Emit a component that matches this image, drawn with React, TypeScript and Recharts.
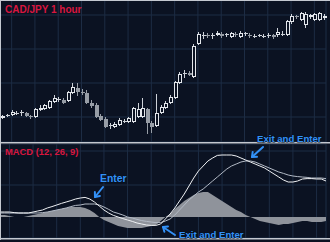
import { Area, Bar, CartesianGrid, ComposedChart, Line, XAxis, YAxis } from "recharts";

// hourly candles, CAD/JPY
const opens = [
  90.82, 90.84, 90.85, 90.865, 90.87, 90.87, 90.84, 90.83, 90.9, 90.91,
  90.92, 90.98, 91.0, 91.0, 90.99, 91.07, 91.12, 91.08, 91.07, 90.97,
  90.95, 90.84, 90.81, 90.74, 90.73, 90.75, 90.79, 90.78, 90.78, 90.83,
  90.83, 90.91, 90.77, 90.74, 90.87, 90.92, 90.97, 91.02, 91.17, 91.26,
  91.27, 91.23, 91.56, 91.65, 91.65, 91.64, 91.65, 91.66, 91.65, 91.63,
  91.66, 91.63, 91.66, 91.65, 91.64, 91.64, 91.64, 91.64, 91.65, 91.65,
  91.66, 91.65, 91.78, 91.84, 91.8, 91.75, 91.83, 91.8, 91.8, 91.82,
];
const highs = [
  90.85, 90.86, 90.9, 90.89, 90.9, 90.88, 90.85, 90.92, 90.95, 90.96,
  91.0, 91.05, 91.03, 91.02, 91.09, 91.17, 91.17, 91.11, 91.1, 91.0,
  90.97, 90.86, 90.83, 90.77, 90.78, 90.82, 90.81, 90.83, 90.93, 90.97,
  91.02, 90.92, 90.79, 91.06, 90.95, 90.99, 91.05, 91.19, 91.28, 91.3,
  91.29, 91.56, 91.68, 91.68, 91.67, 91.67, 91.69, 91.68, 91.67, 91.68,
  91.68, 91.69, 91.68, 91.67, 91.66, 91.66, 91.66, 91.67, 91.66, 91.72,
  91.69, 91.8, 91.86, 91.85, 91.88, 91.88, 91.86, 91.87, 91.88, 91.86,
];
const lows = [
  90.81, 90.83, 90.84, 90.85, 90.84, 90.83, 90.81, 90.82, 90.89, 90.9,
  90.91, 90.97, 90.98, 90.96, 90.98, 91.06, 91.04, 91.05, 90.96, 90.92,
  90.82, 90.79, 90.72, 90.71, 90.72, 90.74, 90.77, 90.77, 90.77, 90.82,
  90.82, 90.66, 90.67, 90.73, 90.86, 90.91, 90.96, 91.01, 91.16, 91.22,
  91.24, 91.22, 91.55, 91.61, 91.62, 91.61, 91.64, 91.62, 91.63, 91.62,
  91.63, 91.62, 91.64, 91.62, 91.62, 91.63, 91.62, 91.62, 91.61, 91.63,
  91.64, 91.64, 91.76, 91.81, 91.79, 91.72, 91.81, 91.79, 91.79, 91.8,
];
const closes = [
  90.84, 90.85, 90.88, 90.87, 90.88, 90.84, 90.83, 90.91, 90.92, 90.95,
  90.99, 91.02, 91.01, 90.97, 91.08, 91.13, 91.08, 91.07, 90.97, 90.94,
  90.83, 90.8, 90.73, 90.75, 90.76, 90.8, 90.79, 90.82, 90.92, 90.91,
  90.92, 90.77, 90.73, 90.87, 90.93, 90.97, 91.03, 91.18, 91.26, 91.27,
  91.25, 91.54, 91.66, 91.65, 91.64, 91.65, 91.67, 91.64, 91.66, 91.67,
  91.65, 91.67, 91.67, 91.64, 91.64, 91.65, 91.64, 91.65, 91.63, 91.68,
  91.66, 91.79, 91.84, 91.83, 91.87, 91.86, 91.85, 91.86, 91.87, 91.84,
];

// MACD (12, 26, 9)
const macd = [
  0.025, 0.025, 0.025, 0.022, 0.02, 0.02, 0.02, 0.025, 0.03, 0.035,
  0.045, 0.052, 0.06, 0.068, 0.075, 0.082, 0.09, 0.095, 0.098, 0.09,
  0.075, 0.055, 0.035, 0.02, 0.008, 0.0, -0.008, -0.015, -0.022, -0.03,
  -0.035, -0.04, -0.042, -0.042, -0.035, -0.01, 0.015, 0.045, 0.08, 0.115,
  0.155, 0.195, 0.23, 0.255, 0.28, 0.295, 0.308, 0.31, 0.31, 0.31,
  0.305, 0.295, 0.285, 0.275, 0.265, 0.255, 0.245, 0.23, 0.215, 0.2,
  0.185, 0.175, 0.175, 0.18, 0.19, 0.192, 0.192, 0.19, 0.19, 0.18,
];
const signal = [
  0.02, 0.02, 0.02, 0.02, 0.02, 0.02, 0.02, 0.02, 0.02, 0.022,
  0.025, 0.03, 0.035, 0.04, 0.045, 0.052, 0.058, 0.06, 0.065, 0.065,
  0.065, 0.06, 0.05, 0.038, 0.025, 0.018, 0.01, 0.0, -0.005, -0.012,
  -0.018, -0.022, -0.025, -0.028, -0.028, -0.02, -0.01, 0.01, 0.035, 0.06,
  0.085, 0.105, 0.125, 0.14, 0.16, 0.18, 0.2, 0.22, 0.24, 0.255,
  0.265, 0.275, 0.28, 0.28, 0.275, 0.265, 0.255, 0.245, 0.235, 0.225,
  0.218, 0.21, 0.205, 0.202, 0.2, 0.198, 0.195, 0.195, 0.195, 0.192,
];
const histogram = [
  0.01, 0.01, 0.005, 0, 0, 0, 0.005, 0.01, 0.015, 0.02,
  0.025, 0.03, 0.035, 0.04, 0.045, 0.05, 0.05, 0.05, 0.045, 0.035,
  0.02, 0, -0.015, -0.025, -0.035, -0.045, -0.05, -0.055, -0.055, -0.055,
  -0.055, -0.05, -0.045, -0.04, -0.02, 0, 0.015, 0.04, 0.06, 0.08,
  0.095, 0.11, 0.12, 0.125, 0.125, 0.11, 0.095, 0.08, 0.065, 0.05,
  0.035, 0.025, 0.01, 0, -0.01, -0.02, -0.025, -0.03, -0.035, -0.04,
  -0.035, -0.035, -0.03, -0.025, -0.02, -0.02, -0.025, -0.025, -0.025, -0.02,
];

const priceGridTicks = [90.66, 90.83, 91.0, 91.17, 91.34, 91.51, 91.68, 91.85];
const macdGridTicks = [0.075, 0.16, 0.245, 0.33];
const barGridTicks = [2, 7, 12, 17, 22, 27, 32, 37, 42, 47, 52, 57, 62, 67];

const BG = "#0b1222";
const GRID = "#1d2c44";
const FRAME = "#c4c8d0";
const RED = "#d8163f";
const BLUE = "#3391f7";
const BULL = "#e4e7ec";
const BEAR = "#979da6";

const candles = opens.map((open, i) => ({
  t: i,
  open,
  high: highs[i],
  low: lows[i],
  close: closes[i],
  range: [lows[i], highs[i]],
}));

const macdRows = macd.map((m, i) => ({ t: i, macd: m, signal: signal[i], hist: histogram[i] }));

// draws one candle inside the high-low box the Bar gives us
const Candle = (props: any) => {
  const { x, y, width, height, payload } = props;
  const { open, close, high, low } = payload;
  const top = Math.min(y, y + height);
  const h = Math.abs(height);
  const perUnit = high === low ? 0 : h / (high - low);
  const yOf = (v: number) => top + (high - v) * perUnit;
  const k = Math.round(x + width / 2);
  const bull = close >= open;
  const bTop = Math.round(yOf(Math.max(open, close)));
  const bBot = Math.round(yOf(Math.min(open, close)));
  const wick = bull ? "#cdd1d8" : BEAR;
  return (
    <g>
      <line x1={k + 0.5} x2={k + 0.5} y1={top} y2={top + h} stroke={wick} strokeWidth={1} />
      {bBot - bTop < 2 ? (
        <rect x={k - 1} y={bTop} width={4} height={1} fill={wick} />
      ) : bull ? (
        <rect x={k - 0.5} y={bTop + 0.5} width={3} height={bBot - bTop - 1} fill={BG} stroke={BULL} strokeWidth={1} />
      ) : (
        <rect x={k - 1} y={bTop} width={4} height={bBot - bTop} fill={BEAR} />
      )}
    </g>
  );
};

const Arrow = ({ x1, y1, x2, y2 }: { x1: number; y1: number; x2: number; y2: number }) => {
  const ang = Math.atan2(y2 - y1, x2 - x1);
  const len = 5;
  const p = (a: number) => `${x2 + len * Math.cos(a)},${y2 + len * Math.sin(a)}`;
  return (
    <g stroke={BLUE} strokeWidth={2} fill="none" strokeLinecap="round" strokeLinejoin="round">
      <line x1={x1} y1={y1} x2={x2} y2={y2} />
      <polyline points={`${p(ang + Math.PI - 0.7)} ${x2},${y2} ${p(ang + Math.PI + 0.7)}`} />
    </g>
  );
};

const noteStyle = {
  fontFamily: "'Liberation Sans', Arial, sans-serif",
  fontWeight: 700,
  paintOrder: "stroke" as const,
  stroke: "#06101e",
  strokeWidth: 1.2,
};

export default function App() {
  return (
    <div style={{ position: "absolute", left: 0, top: 0, width: 330, height: 242, background: BG, overflow: "hidden" }}>
      <div style={{ position: "absolute", left: 0, top: 0 }}>
        <ComposedChart width={330} height={142} data={candles} margin={{ top: 0, right: 4, bottom: 0, left: 0 }}>
          <CartesianGrid stroke={GRID} />
          <XAxis dataKey="t" hide ticks={barGridTicks} />
          <YAxis hide domain={[90.58, 92.0]} ticks={priceGridTicks} allowDataOverflow />
          <Bar dataKey="range" barCategoryGap={0} shape={<Candle />} isAnimationActive={false} />
        </ComposedChart>
      </div>
      <div style={{ position: "absolute", left: 0, top: 144 }}>
        <ComposedChart width={330} height={94} data={macdRows} margin={{ top: 0, right: 4, bottom: 0, left: 0 }}>
          <CartesianGrid stroke={GRID} />
          <XAxis dataKey="t" hide ticks={barGridTicks} />
          <YAxis hide domain={[-0.105, 0.365]} ticks={macdGridTicks} allowDataOverflow />
          <Area dataKey="hist" type="linear" baseValue={0} fill="#8f939b" fillOpacity={1} stroke="none" isAnimationActive={false} />
          <Line dataKey="signal" type="linear" stroke="#b3bac6" strokeWidth={1} dot={false} isAnimationActive={false} />
          <Line dataKey="macd" type="linear" stroke="#eef0f3" strokeWidth={1} dot={false} isAnimationActive={false} />
        </ComposedChart>
      </div>
      <svg width={330} height={242} style={{ position: "absolute", left: 0, top: 0 }}>
        <line x1={0} x2={330} y1={0.5} y2={0.5} stroke={FRAME} />
        <line x1={0.5} x2={0.5} y1={0} y2={240} stroke={FRAME} />
        <line x1={0} x2={330} y1={142.75} y2={142.75} stroke={FRAME} strokeWidth={1.5} />
        <line x1={0} x2={330} y1={238.75} y2={238.75} stroke={FRAME} strokeWidth={1.5} />
        <text x={5} y={12.5} fill={RED} fontSize={10} fontFamily="'Liberation Sans', Arial, sans-serif" fontWeight={700}>
          CAD/JPY 1 hour
        </text>
        <text x={5} y={155} fill={RED} fontSize={9.4} fontFamily="'Liberation Sans', Arial, sans-serif" fontWeight={700}>
          MACD (12, 26, 9)
        </text>
        <text x={100} y={182} fill={BLUE} fontSize={10.4} style={noteStyle}>
          Enter
        </text>
        <text x={257} y={141.5} fill={BLUE} fontSize={9.6} style={noteStyle}>
          Exit and Enter
        </text>
        <text x={179} y={237.5} fill={BLUE} fontSize={9.6} style={noteStyle}>
          Exit and Enter
        </text>
        <Arrow x1={103} y1={187} x2={95} y2={197} />
        <Arrow x1={263} y1={147} x2={252} y2={157} />
        <Arrow x1={175} y1={235} x2={163} y2={227} />
      </svg>
    </div>
  );
}
